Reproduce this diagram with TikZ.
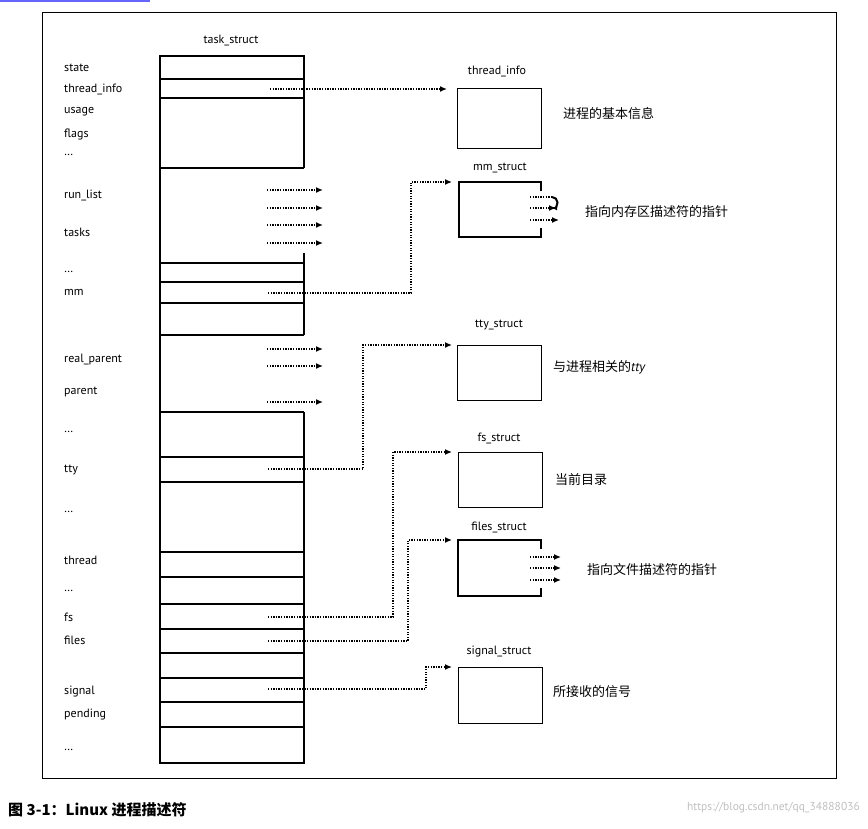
\documentclass[tikz,border=0pt]{standalone}
\usepackage{fontspec}
\setmainfont{PT Sans}
\newfontfamily\cjk{Noto Sans CJK SC}
\usetikzlibrary{arrows.meta}
\begin{document}
\begin{tikzpicture}[x=1pt,y=-1pt,
  lbl/.style={anchor=west,font=\fontsize{12}{13}\selectfont,inner sep=0},
  ttl/.style={font=\fontsize{12}{13}\selectfont,inner sep=0},
  cn/.style={anchor=west,font=\cjk\fontsize{13}{15}\selectfont,inner sep=0},
  ln/.style={line width=1.4pt},
  dt/.style={line width=1.3pt,dash pattern=on 1.3pt off 1.3pt},
  ptr/.style={dt,-{Latex[length=7pt,width=6pt]}},
  sbox/.style={draw,line width=1.4pt,minimum width=84pt,anchor=north west,inner sep=0}]
\useasboundingbox (0,0) rectangle (868,828);
\fill[blue!60] (0,0) rectangle (150,1.5);
\draw[line width=0.9pt] (42,12) rectangle (836,778);
% task_struct
\node[ttl] (ts) at (231,41) {task\_struct};
\draw[ln] (304,168) -- (304,56) -- (160,56) -- (160,763) -- (304,763) -- (304,412);
\draw[ln] (304,253) -- (304,335);
\foreach \y in {79,98,168,263,282,303,335,412,457,482,552,577,604,629,653,678,702,727}
  \draw[ln] (160,\y) -- (304,\y);
% left labels
\foreach \t/\y in {state/68,thread\_info/89,usage/112,flags/134,\ldots/155,run\_list/195,tasks/232,\ldots/272,mm/292,real\_parent/360,parent/392,\ldots/432,tty/470,\ldots/512,thread/560,\ldots/591,fs/617,files/640,signal/692,pending/715,\ldots/750}
  \node[lbl] at (64,\y) {\t};
% free arrows
\foreach \y [count=\i] in {190,208,225,243,349,366,402}
  {\coordinate (fa\i) at (267,\y); \coordinate (fb\i) at (323,\y); \draw[ptr] (fa\i) -- (fb\i);}
% right boxes
\node[ttl] (lti) at (497,71) {thread\_info};
\node[sbox,minimum height=60pt] (ti) at (457,88) {};
\node[cn] at (563,114) {进程的基本信息};
\node[ttl] (lmm) at (500,168) {mm\_struct};
\coordinate (mA) at (541,191); \coordinate (mB) at (541,228);
\draw[ln] (mA) -- (541,182) -- (459,182) -- (459,237) -- (541,237) -- (mB);
\coordinate (ma1) at (530,197); \coordinate (ma2) at (530,208); \coordinate (ma3) at (530,220);
\draw[dt] (ma1) -- (552,197);
\draw[line width=2pt,-{Latex[length=5pt,width=5pt]}] (552,197) arc[start angle=90,end angle=-90,radius=5.5pt] ;
\draw[ptr] (ma2) -- (556,208);
\draw[ptr] (ma3) -- (559,220);
\node[cn] at (585,212) {指向内存区描述符的指针};
\node[ttl] (ltt) at (499,325) {tty\_struct};
\node[sbox,minimum height=55pt] (tt) at (457,345) {};
\node[cn] at (553,367) {与进程相关的\textit{\rmfamily tty}};
\node[ttl] (lfs) at (499,438) {fs\_struct};
\node[sbox,minimum height=55pt] (fs) at (458,452) {};
\node[cn] at (555,480) {当前目录};
\node[ttl] (lfl) at (499,527) {files\_struct};
\coordinate (fA) at (541,549); \coordinate (fB) at (541,588);
\draw[ln] (fA) -- (541,540) -- (458,540) -- (458,596) -- (541,596) -- (fB);
\foreach \y [count=\i] in {557,568,580}
  {\coordinate (fc\i) at (530,\y); \coordinate (fd\i) at (561,\y); \draw[ptr] (fc\i) -- (fd\i);}
\node[cn] at (587,570) {指向文件描述符的指针};
\node[ttl] (lsg) at (499,652) {signal\_struct};
\node[sbox,minimum height=56pt] (sg) at (458,667) {};
\node[cn] at (553,692) {所接收的信号};
% connectors
\coordinate (s1) at (270,89); \coordinate (e1) at (447,89);
\draw[ptr] (s1) -- (e1);
\coordinate (s2) at (268,293); \coordinate (e2) at (452,182);
\draw[ptr] (s2) -| (411,182) -- (e2);
\coordinate (s3) at (268,469); \coordinate (e3) at (452,345);
\draw[ptr] (s3) -| (363,345) -- (e3);
\coordinate (s4) at (268,617); \coordinate (e4) at (452,452);
\draw[ptr] (s4) -| (393,452) -- (e4);
\coordinate (s5) at (268,641); \coordinate (e5) at (452,540);
\draw[ptr] (s5) -| (408,540) -- (e5);
\coordinate (s6) at (268,689); \coordinate (e6) at (452,667);
\draw[ptr] (s6) -| (426,667) -- (e6);
% caption
\node[anchor=west,inner sep=0,font=\cjk\bfseries\fontsize{15}{17}\selectfont] at (8,810) {图 3-1：Linux 进程描述符};
\node[anchor=east,inner sep=0,text=black!25,font=\fontsize{11.5}{12}\selectfont] at (860,808) {https://blog.csdn.net/qq\_34888036};
\end{tikzpicture}
\end{document}
